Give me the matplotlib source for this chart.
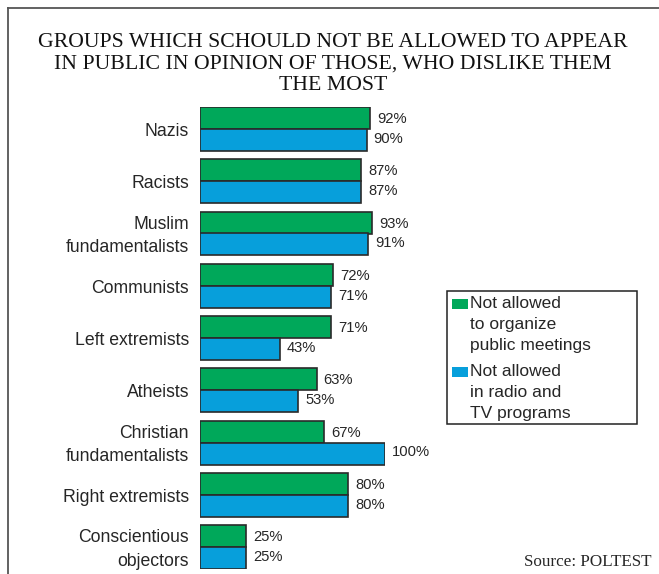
import matplotlib.pyplot as plt
from matplotlib.patches import Rectangle

groups = ['Nazis', 'Racists', 'Muslim\nfundamentalists', 'Communists',
          'Left extremists', 'Atheists', 'Christian\nfundamentalists',
          'Right extremists', 'Conscientious\nobjectors']
meetings = [92, 87, 93, 72, 71, 63, 67, 80, 25]
radio_tv = [90, 87, 91, 71, 43, 53, 100, 80, 25]

title_lines = ['GROUPS WHICH SCHOULD NOT BE ALLOWED TO APPEAR',
               'IN PUBLIC IN OPINION OF THOSE, WHO DISLIKE THEM',
               'THE MOST']
legend_labels = ['Not allowed\nto organize\npublic meetings',
                 'Not allowed\nin radio and\nTV programs']
source = 'Source: POLTEST'

GREEN = '#00a85a'
BLUE = '#079fdb'
EDGE = '#2a2a2a'
TEXT = '#262626'

W, H = 659, 574
fig = plt.figure(figsize=(W / 100, H / 100), dpi=100)
fig.patch.set_facecolor('white')


def fx(px):
    return px / W


def fy(py):
    return 1 - py / H


# outer frame (top and left edges visible)
fig.add_artist(plt.Line2D([fx(8), fx(8)], [fy(8), fy(580)], color='#555555', lw=1.3))
fig.add_artist(plt.Line2D([fx(8), fx(665)], [fy(8), fy(8)], color='#555555', lw=1.3))

for i, line in enumerate(title_lines):
    fig.text(fx(333), fy([47, 68.5, 90][i]), line, ha='center', va='baseline',
             family='Liberation Serif', fontsize=15.7, color='#111111')

# bar area: 0..100 % maps to x 200..385 px
ax = fig.add_axes([fx(200), fy(569), fx(185), (569 - 107) / H])
bh = 22 / 52.25
ys = list(range(len(groups)))
ax.barh([y - bh / 2 for y in ys], meetings, height=bh, color=GREEN,
        edgecolor=EDGE, linewidth=1.2)
ax.barh([y + bh / 2 for y in ys], radio_tv, height=bh, color=BLUE,
        edgecolor=EDGE, linewidth=1.2)
ax.set_xlim(0, 100)
ax.set_ylim(len(groups) - 1 + bh, -bh)
ax.axis('off')

for y, m, r in zip(ys, meetings, radio_tv):
    ax.text(m + 3.8, y - bh / 2 + 0.02, f'{m}%', va='center', ha='left',
            family='Liberation Sans', fontsize=10.6, color=TEXT, clip_on=False)
    ax.text(r + 3.8, y + bh / 2 - 0.02, f'{r}%', va='center', ha='left',
            family='Liberation Sans', fontsize=10.6, color=TEXT, clip_on=False)
    ax.text(-5.9, y + 0.045, groups[y], va='center', ha='right', multialignment='right',
            family='Liberation Sans', fontsize=12.7, color=TEXT,
            linespacing=1.5, clip_on=False)

# legend box
fig.add_artist(Rectangle((fx(447), fy(424)), fx(637 - 447), (424 - 291) / H,
                         transform=fig.transFigure, facecolor='white',
                         edgecolor='#222222', lw=1.1))
for j, (lab, col) in enumerate(zip(legend_labels, [GREEN, BLUE])):
    top = [296, 364][j]
    fig.add_artist(Rectangle((fx(452), fy(top + 13)), fx(16), 10 / H,
                             transform=fig.transFigure, facecolor=col,
                             edgecolor='none'))
    fig.text(fx(470), fy(top), lab, ha='left', va='top',
             family='Liberation Sans', fontsize=12.5, color=TEXT,
             linespacing=1.52)

fig.text(fx(651), fy(566), source, ha='right', va='baseline',
         family='Liberation Serif', fontsize=12.3, color=TEXT)

fig.savefig('out.png', dpi=100)
